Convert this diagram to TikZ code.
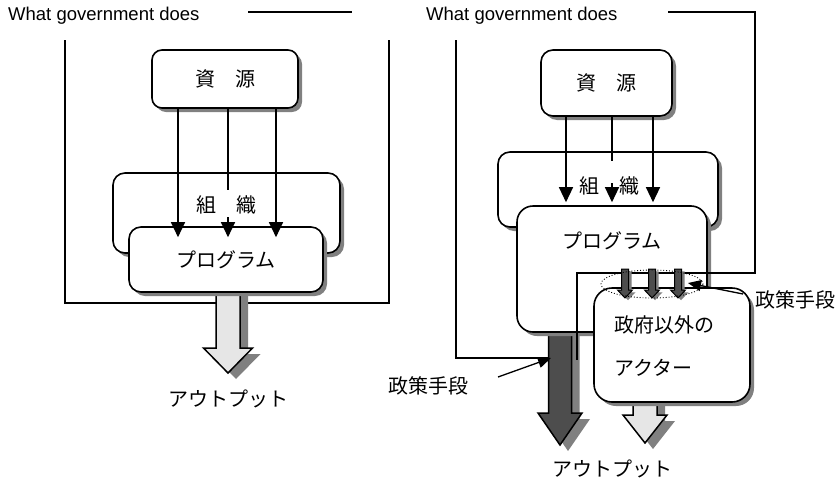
\documentclass[tikz,border=0pt]{standalone}
\usepackage{fontspec}
\setmainfont{Liberation Sans}
\newfontfamily\jp{Noto Sans CJK JP}
\usetikzlibrary{shadows,arrows.meta,calc}
\definecolor{shgray}{HTML}{808080}
\definecolor{lightfill}{HTML}{E6E6E6}
\definecolor{darkfill}{HTML}{4D4D4D}
% #1 fill, #2 centre x, #3 top, #4 head base, #5 tip, #6 half shaft, #7 half head, #8 shadow offset, #9 line width
\newcommand{\blkarrow}[9]{%
  \fill[shgray,shift={(#8,#8*0.75)}] (#2-#6,#3) -- (#2+#6,#3) -- (#2+#6,#4) -- (#2+#7,#4) -- (#2,#5) -- (#2-#7,#4) -- (#2-#6,#4) -- cycle;
  \draw[line width=#9,fill=#1,line join=miter] (#2-#6,#3) -- (#2+#6,#3) -- (#2+#6,#4) -- (#2+#7,#4) -- (#2,#5) -- (#2-#7,#4) -- (#2-#6,#4) -- cycle;
}
\tikzset{
  rbox/.style={draw, line width=1.6pt, rounded corners=#1, fill=white,
    drop shadow={shadow xshift=4pt, shadow yshift=-4pt, fill=shgray, opacity=1}, inner sep=0pt},
  rbox/.default=10pt,
  flow/.style={line width=1.3pt, -{Triangle[length=15pt,width=14pt]}},
  ptr/.style={line width=1.3pt, -{Triangle[length=13pt,width=11pt]}},
  frameline/.style={line width=1.3pt},
  jtext/.style={font=\jp\fontsize{20}{24}\selectfont, inner sep=0pt},
  etext/.style={font=\fontsize{18.5}{22}\selectfont, inner sep=0pt},
}
\begin{document}
\begin{tikzpicture}[x=1pt,y=-1pt]
\useasboundingbox (0,0) rectangle (838,485);
\fill[white] (0,0) rectangle (838,485);

% ---------------- left diagram ----------------
\node[etext, anchor=west] (title1) at (8,16) {What government does};
\draw[frameline] (248,12) -- (352,12);
\draw[frameline] (65,40) |- (389,303) -- (389,40);

\blkarrow{lightfill}{228}{285}{348}{373}{12}{24.5}{8}{1.5pt}

\node[rbox=12pt, minimum width=227pt, minimum height=80pt] (org1) at (226.5,213) {};
\node[rbox=12pt, minimum width=194pt, minimum height=65pt, jtext] (prog1) at (226,259.5) {プログラム};
\node[rbox=10pt, minimum width=146pt, minimum height=58pt, jtext] (res1) at (225,79) {資　源};

\coordinate (a1) at (178,0);
\coordinate (a2) at (228,0);
\coordinate (a3) at (276,0);
\coordinate (t1) at ([yshift=-11pt]prog1.north);
\draw[flow] (res1.south -| a1) -- (t1 -| a1);
\draw[flow] (res1.south -| a2) -- (t1 -| a2);
\draw[flow] (res1.south -| a3) -- (t1 -| a3);
\fill[white] (222,190) rectangle (234,217);
\node[jtext] (orgt1) at (226,205) {組　織};

\node[jtext] (out1) at (228,399) {アウトプット};

% ---------------- right diagram ----------------
\node[etext, anchor=west] (title2) at (426,16) {What government does};

\blkarrow{darkfill}{560}{325}{413}{445}{11.5}{22}{8}{1.5pt}
\blkarrow{lightfill}{645}{395}{415}{443}{12}{22}{8}{1.5pt}

\node[rbox=12pt, minimum width=220pt, minimum height=75pt] (org2) at (608,189.5) {};
\node[rbox=16pt, minimum width=190pt, minimum height=126pt] (prog2) at (612,269) {};
\node[jtext] (progt2) at (612,241) {プログラム};
\node[rbox=12pt, minimum width=131pt, minimum height=66pt, jtext] (res2) at (606.5,83) {資　源};

\coordinate (b1) at (566,0);
\coordinate (b2) at (612,0);
\coordinate (b3) at (653,0);
\coordinate (t2) at ([yshift=3pt]prog2.north);
\draw[flow] (res2.south -| b1) -- (t2 -| b1);
\draw[flow] (res2.south -| b2) -- (t2 -| b2);
\draw[flow] (res2.south -| b3) -- (t2 -| b3);
\fill[white] (606,161) rectangle (618,183);
\node[jtext] (orgt2) at (609,186) {組　織};

\draw[frameline] (668,12) -| (755,273) -| (577,360);
\draw[frameline] (456,40) |- (549,358);

\node[rbox=18pt, minimum width=156pt, minimum height=114pt] (actor) at (672,345) {};
\node[jtext, anchor=west] (actt1) at (614,325) {政府以外の};
\node[jtext, anchor=west] (actt2) at (614,368) {アクター};

\blkarrow{darkfill}{625}{269}{290}{298}{3.5}{7.5}{3}{1pt}
\blkarrow{darkfill}{652}{269}{290}{298}{3.5}{7.5}{3}{1pt}
\blkarrow{darkfill}{678}{269}{290}{298}{3.5}{7.5}{3}{1pt}
\draw[dotted, line width=0.9pt] (652,284) ellipse [x radius=51, y radius=14];

\node[jtext] (pol1) at (428,386) {政策手段};
\coordinate (p1s) at (498,377);
\coordinate (p1e) at (551,358);
\draw[ptr] (p1s) -- (p1e);

\node[jtext, anchor=west] (pol2) at (755,300) {政策手段};
\coordinate (p2s) at (743,294);
\coordinate (p2e) at (688,283);
\draw[ptr] (p2s) -- (p2e);

\node[jtext] (out2) at (612,469) {アウトプット};
\end{tikzpicture}
\end{document}
